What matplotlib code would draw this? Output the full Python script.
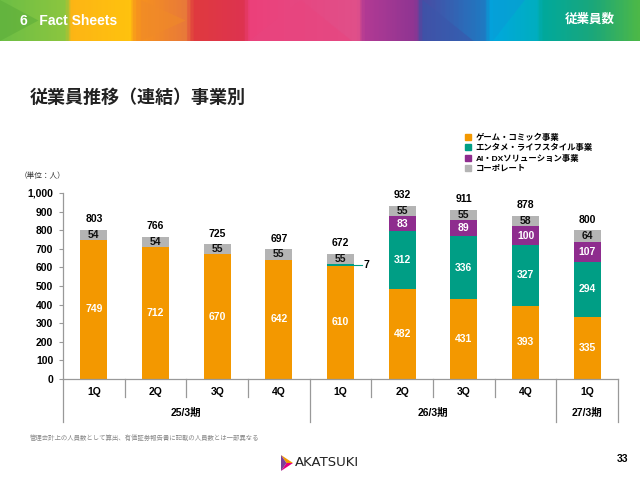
import numpy as np
import matplotlib.pyplot as plt
from matplotlib.colors import LinearSegmentedColormap
from matplotlib.patches import Patch, Polygon
from matplotlib.ticker import FuncFormatter

plt.rcParams['font.family'] = ['Liberation Sans', 'Noto Sans CJK JP', 'DejaVu Sans']

quarters = ["1Q", "2Q", "3Q", "4Q", "1Q", "2Q", "3Q", "4Q", "1Q"]
periods = ["25/3期", "26/3期", "27/3期"]
period_spans = [(0, 3), (4, 7), (8, 8)]

game = [749, 712, 670, 642, 610, 482, 431, 393, 335]
ent = [0, 0, 0, 0, 7, 312, 336, 327, 294]
ai_dx = [0, 0, 0, 0, 0, 83, 89, 100, 107]
corp = [54, 54, 55, 55, 55, 55, 55, 58, 64]

series_names = ["ゲーム・コミック事業", "エンタメ・ライフスタイル事業",
                "AI・DXソリューション事業", "コーポレート"]
colors = ["#F39800", "#009E85", "#8E2C8E", "#B4B4B4"]

W, H = 640, 479
fig = plt.figure(figsize=(W / 100, H / 100), dpi=100)

# header band
hdr = fig.add_axes([0, 1 - 41 / H, 1, 41 / H])
band = LinearSegmentedColormap.from_list("band", [
    (0.00, "#6DBE45"), (0.10, "#8CC63F"), (0.11, "#FDB515"), (0.20, "#FFC20E"),
    (0.21, "#F7941D"), (0.29, "#E8793A"), (0.30, "#E03A3E"), (0.38, "#DD3350"),
    (0.39, "#EC407A"), (0.56, "#E0508A"), (0.57, "#B23A94"), (0.65, "#8E3592"),
    (0.66, "#4A4BA3"), (0.76, "#1E7BC3"), (0.77, "#00A8DF"), (0.84, "#00AEC0"),
    (0.85, "#00A99D"), (0.93, "#1BA77A"), (1.00, "#4CB848")])
hdr.imshow(np.linspace(0, 1, 400)[None, :], aspect="auto", cmap=band,
           extent=[0, 1, 0, 1])
for tri, c in [([(0, 0), (0.06, 0.5), (0, 1)], "#5DAE3A"),
               ([(0.22, 0), (0.29, 0.5), (0.22, 1)], "#F08A28"),
               ([(0.39, 0), (0.47, 1), (0.55, 0)], "#E8457F"),
               ([(0.66, 1), (0.74, 0), (0.66, 0)], "#3B56AA"),
               ([(0.77, 0), (0.82, 1), (0.77, 1)], "#0A9BD6")]:
    hdr.add_patch(Polygon(tri, closed=True, color=c, alpha=0.6, lw=0))
hdr.set_xlim(0, 1)
hdr.set_ylim(0, 1)
hdr.axis("off")
fig.text(20 / W, 1 - 21 / H, "6   Fact Sheets", color="white", fontsize=10,
         fontweight="bold", va="center")
fig.text(615 / W, 1 - 20 / H, "従業員数", color="white", fontsize=9,
         fontweight="bold", va="center", ha="right")

fig.text(30 / W, 1 - 98 / H, "従業員推移（連結）事業別", fontsize=13,
         fontweight="bold", va="center", color="#222222")
fig.text(20 / W, 1 - 176 / H, "（単位：人）", fontsize=5.5, va="center",
         color="#333333")

# chart
ax = fig.add_axes([63 / W, 1 - 379 / H, 555 / W, 186 / H])
x = np.arange(len(quarters))
bw = 0.44
bottom = np.zeros(len(x))
stacks = [game, ent, ai_dx, corp]
txt_colors = ["white", "white", "white", "#111111"]
for vals, c, tc in zip(stacks, colors, txt_colors):
    vals = np.array(vals)
    ax.bar(x, vals, bw, bottom=bottom, color=c, zorder=2)
    for xi, v, b in zip(x, vals, bottom):
        if v >= 40:
            ax.text(xi, b + v / 2, str(v), ha="center", va="center",
                    color=tc, fontsize=7.5, fontweight="bold")
    bottom = bottom + vals

for xi, t in zip(x, bottom):
    ax.annotate(f"{int(t)}", (xi, t), xytext=(0, 4), textcoords="offset points",
                ha="center", va="bottom", fontsize=7.5, fontweight="bold")

# small 7 label with leader line
y7 = game[4] + ent[4] / 2
ax.plot([4 + bw / 2, 4.35], [y7, y7], color=colors[1], lw=0.8, zorder=3)
ax.text(4.38, y7, str(ent[4]), ha="left", va="center", fontsize=7.5,
        fontweight="bold")

ax.set_xlim(-0.5, len(x) - 0.5)
ax.set_ylim(0, 1000)
ax.set_yticks(np.arange(0, 1001, 100))
ax.yaxis.set_major_formatter(FuncFormatter(lambda v, p: f"{int(v):,}"))
for lab in ax.get_yticklabels():
    lab.set_fontweight("bold")
ax.tick_params(axis="y", labelsize=7.5, length=3, color="#999999", pad=4)
ax.set_xticks([])
for s in ["top", "right"]:
    ax.spines[s].set_visible(False)
for s in ["left", "bottom"]:
    ax.spines[s].set_color("#999999")
    ax.spines[s].set_linewidth(0.9)

trans = ax.get_xaxis_transform()
for xi, q in zip(x, quarters):
    ax.text(xi, -0.07, q, transform=trans, ha="center", va="center",
            fontsize=7.5, fontweight="bold")
long_div = [-0.5, 3.5, 7.5, 8.5]
for d in np.arange(-0.5, len(x)):
    low = -0.23 if d in long_div else -0.095
    ax.plot([d, d], [0, low], transform=trans, color="#999999", lw=0.9,
            clip_on=False)
for name, (a, b) in zip(periods, period_spans):
    ax.text((a + b) / 2, -0.183, name, transform=trans, ha="center",
            va="center", fontsize=7.5, fontweight="bold")

handles = [Patch(color=c) for c in colors]
fig.legend(handles, series_names, loc="upper left",
           bbox_to_anchor=(462 / W, 1 - 130 / H), frameon=False,
           handlelength=0.7, handleheight=0.7, handletextpad=0.5,
           labelspacing=0.3, borderaxespad=0, prop={"weight": "bold", "size": 6})

fig.text(30 / W, 1 - 438 / H, "管理会計上の人員数として算出、有価証券報告書に記載の人員数とは一部異なる",
         fontsize=4.6, color="#888888", va="center")

# logo
lg = fig.add_axes([281 / W, 1 - 471 / H, 12 / W, 16 / H])
lg.add_patch(Polygon([(0, 1), (1, 0.5), (0.45, 0.5)], color="#F39800", lw=0))
lg.add_patch(Polygon([(0, 0), (1, 0.5), (0.45, 0.5)], color="#E6007E", lw=0))
lg.add_patch(Polygon([(0, 1), (0.45, 0.5), (0, 0)], color="#7B3F98", lw=0))
lg.set_xlim(0, 1)
lg.set_ylim(0, 1)
lg.axis("off")
fig.text(295 / W, 1 - 463 / H, "AKATSUKI", fontsize=9.5, va="center",
         family="DejaVu Sans", color="#222222")
fig.text(623 / W, 1 - 459 / H, "33", fontsize=7.5, fontweight="bold",
         ha="center", va="center")

fig.savefig("out.png", dpi=100)
